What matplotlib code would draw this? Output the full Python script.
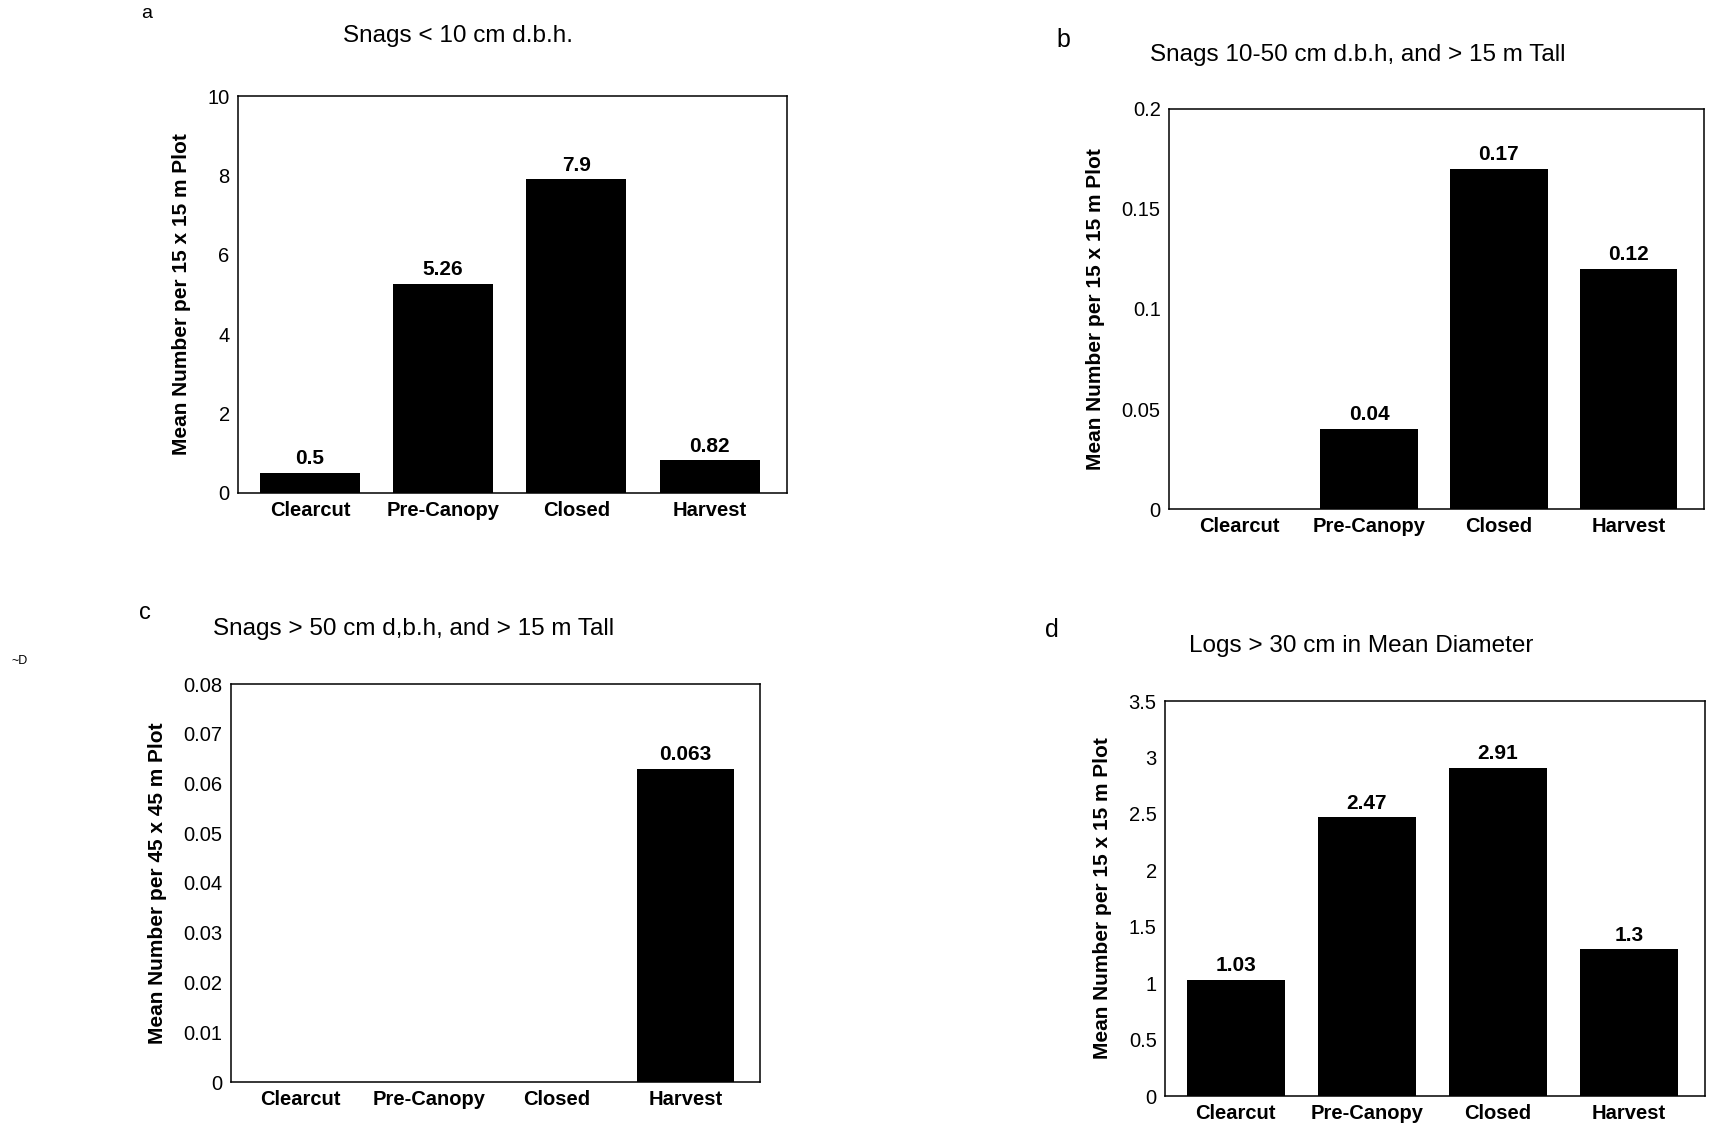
import matplotlib
matplotlib.use("Agg")
import matplotlib.pyplot as plt
from matplotlib.ticker import FuncFormatter

plt.rcParams["font.family"] = ["Liberation Sans", "DejaVu Sans"]

# Stand types shared by all four panels.
categories = ["Clearcut", "Pre-Canopy", "Closed", "Harvest"]

snags_small = [0.5, 5.26, 7.9, 0.82]
snags_mid = [0.0, 0.04, 0.17, 0.12]
snags_large = [0.0, 0.0, 0.0, 0.063]
logs_large = [1.03, 2.47, 2.91, 1.3]

titles = [
    "Snags < 10 cm d.b.h.",
    "Snags 10-50 cm d.b.h, and > 15 m Tall",
    "Snags > 50 cm d,b.h, and > 15 m Tall",
    "Logs > 30 cm in Mean Diameter",
]
letters = ["a", "b", "c", "d"]
ylabels = [
    "Mean Number per 15 x 15 m Plot",
    "Mean Number per 15 x 15 m Plot",
    "Mean Number per 45 x 45 m Plot",
    "Mean Number per 15 x 15 m Plot",
]
yticks = [
    [0, 2, 4, 6, 8, 10],
    [0, 0.05, 0.1, 0.15, 0.2],
    [0, 0.01, 0.02, 0.03, 0.04, 0.05, 0.06, 0.07, 0.08],
    [0, 0.5, 1, 1.5, 2, 2.5, 3, 3.5],
]

W, H = 1710, 1135
fig = plt.figure(figsize=(W / 100, H / 100), dpi=100)


def px_axes(left, top, right, bottom):
    """Axes from pixel box (top-left origin)."""
    return fig.add_axes([left / W, 1 - bottom / H, (right - left) / W, (bottom - top) / H])


# (axes box, title xy, letter xy, letter size) in pixels
layout = [
    ((238, 96, 787, 493), (458, 36), (147, 14), 14),
    ((1169, 109, 1704, 509), (1358, 55), (1063, 40), 18),
    ((231, 684, 760, 1082), (414, 629), (145, 613), 17),
    ((1165, 701, 1705, 1096), (1361, 646), (1052, 630), 18),
]

series = [snags_small, snags_mid, snags_large, logs_large]

for vals, title, letter, ylab, ticks, (box, txy, lxy, lsz) in zip(
        series, titles, letters, ylabels, yticks, layout):
    ax = px_axes(*box)
    xs = range(len(categories))
    bars = ax.bar(xs, vals, width=0.75, color="black")
    ax.set_xlim(-0.54, 3.58)
    ax.set_ylim(0, ticks[-1])
    ax.set_yticks(ticks)
    ax.yaxis.set_major_formatter(FuncFormatter(lambda v, p: f"{v:g}"))
    ax.set_xticks(list(xs))
    ax.set_xticklabels(categories, fontsize=14.5, fontweight="bold")
    ax.tick_params(axis="y", length=0, pad=6, labelsize=14.5)
    ax.tick_params(axis="x", length=0, pad=6)
    ax.set_ylabel(ylab, fontsize=15, fontweight="bold", labelpad=12)
    for s in ax.spines.values():
        s.set_linewidth(1.1)
    top = ticks[-1]
    for b, v in zip(bars, vals):
        if v > 0:
            ax.text(b.get_x() + b.get_width() / 2, v + top * 0.012, f"{v:g}",
                    ha="center", va="bottom", fontsize=15, fontweight="bold")
    fig.text(txy[0] / W, 1 - txy[1] / H, title, ha="center", va="center",
             fontsize=17.5)
    fig.text(lxy[0] / W, 1 - lxy[1] / H, letter, ha="center", va="center",
             fontsize=lsz)

fig.text(20 / W, 1 - 661 / H, "~D", ha="center", va="center", fontsize=9)

fig.savefig("out.png", dpi=100)
